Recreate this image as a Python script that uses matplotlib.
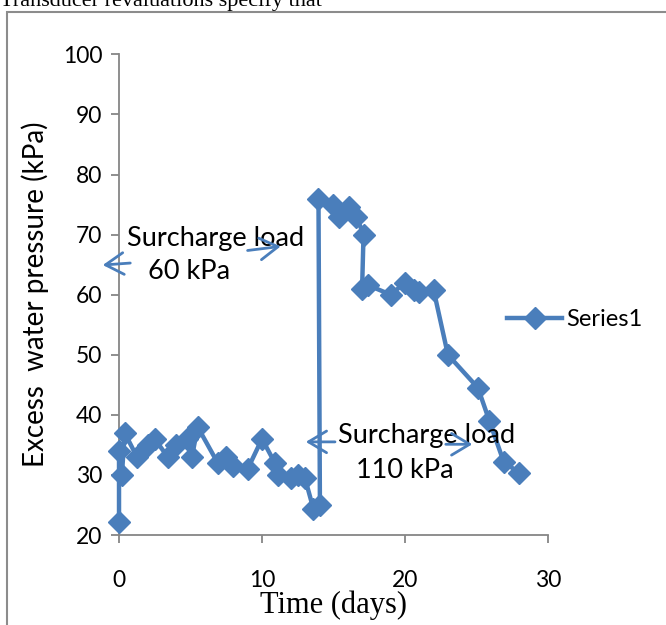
# Excess water pressure vs time (piezometer record)

import numpy as np
import matplotlib.pyplot as plt
from matplotlib.patches import Rectangle

'''
    Data read off the chart

'''

time_days = [0, 0, 0.2, 0.4, 1.25, 2, 2.5, 3.4, 4, 4.75, 5.1, 5.5, 6.9, 7.5, 8, 9, 10,
             10.9, 11.1, 12, 12.5, 13, 13.6, 14.05, 13.95, 15, 15.4, 16.1, 16.6, 17.1,
             17, 17.4, 19, 20, 20.6, 21, 22, 23, 25.1, 25.9, 26.9, 28]
pressure_kpa = [22.2, 34, 30, 37, 33, 35, 36, 33, 35, 36, 33, 38, 32, 33, 31.5, 31, 36,
                32, 30, 29.5, 30, 29.5, 24.3, 25, 76, 75, 73, 74.6, 73, 70,
                61, 61.6, 60, 62, 60.8, 60.5, 60.8, 50, 44.5, 39, 32.2, 30.3]

x_ticks = [0, 10, 20, 30]
y_ticks = [20, 30, 40, 50, 60, 70, 80, 90, 100]

blue = '#4a7ebb'
grey = '#868686'
font = 'Lato'

'''
    Figure and axes

'''

fig = plt.figure(figsize=(6.66, 6.25), dpi=100)
ax = fig.add_axes([0.1787, 0.144, 0.6441, 0.769])

# text of the page above the chart, cut off by the top edge
fig.text(0.0, 0.999, 'Transducer revaluations specify that', fontsize=16,
         family='Liberation Serif', va='center', ha='left')

# frame of the embedded chart
fig.patches.append(Rectangle((7 / 666, -0.1), 1.2, 1 - 12 / 625 + 0.1,
                             transform=fig.transFigure, fill=False,
                             edgecolor='#8c8c8c', linewidth=1.5))

ax.plot(time_days, pressure_kpa, color=blue, linewidth=3.2, marker='D',
        markersize=11, markerfacecolor=blue, markeredgecolor=blue,
        label='Series1', clip_on=False, zorder=3)

ax.set_xlim(0, 30)
ax.set_ylim(20, 100)
ax.set_xticks(x_ticks)
ax.set_yticks(y_ticks)

for side in ['top', 'right']:
    ax.spines[side].set_visible(False)
for side in ['left', 'bottom']:
    ax.spines[side].set_color(grey)
    ax.spines[side].set_linewidth(1.3)

ax.tick_params(axis='both', direction='out', length=6, width=1.3, color=grey,
               labelsize=16.5, pad=6)
ax.tick_params(axis='x', pad=19)
for lbl in ax.get_xticklabels() + ax.get_yticklabels():
    lbl.set_family(font)

ax.set_ylabel('Excess  water pressure (kPa)', fontsize=20, family=font, labelpad=10)
ax.set_xlabel('Time (days)', fontsize=22, family='Liberation Serif', labelpad=0)

'''
    Annotations

'''

arrow = dict(arrowstyle='->, head_length=0.5, head_width=0.3', color=blue,
             linewidth=2, mutation_scale=26)

ax.text(0.56, 69.4, 'Surcharge load', fontsize=19.5, family=font, ha='left', va='center')
ax.text(2.0, 63.8, '60 kPa', fontsize=19.5, family=font, ha='left', va='center')
ax.annotate('', xy=(-1.33, 64.9), xytext=(0.98, 65.3), arrowprops=arrow,
            annotation_clip=False)
ax.annotate('', xy=(11.5, 68.1), xytext=(8.8, 67.3), arrowprops=arrow)

ax.text(15.3, 36.6, 'Surcharge load', fontsize=19.5, family=font, ha='left', va='center')
ax.text(16.6, 30.8, '110 kPa', fontsize=19.5, family=font, ha='left', va='center')
ax.annotate('', xy=(12.87, 35.5), xytext=(15.3, 35.5), arrowprops=arrow)
ax.annotate('', xy=(24.9, 35.1), xytext=(22.66, 35.1), arrowprops=arrow)

leg = ax.legend(loc='center left', bbox_to_anchor=(0.762, 0.488),
                bbox_transform=fig.transFigure, frameon=False,
                prop={'family': font, 'size': 17}, handlelength=2.3,
                handletextpad=0.2, borderpad=0, borderaxespad=0)

fig.savefig('out.png', dpi=100)
